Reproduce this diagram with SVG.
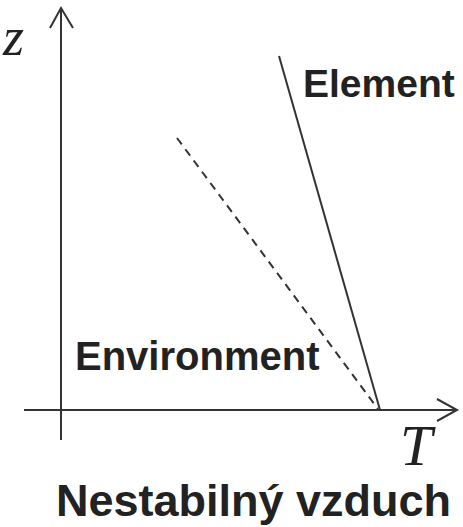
<svg xmlns="http://www.w3.org/2000/svg" width="463" height="527" viewBox="0 0 463 527">
<style>
.ax{stroke:#333;stroke-width:2;fill:none}
.ln{stroke:#333;stroke-width:2;fill:none}
.dash{stroke:#333;stroke-width:2;fill:none;stroke-dasharray:8 6}
.lbl{font-family:"Liberation Sans",Arial,sans-serif;font-weight:bold;fill:#222}
.var{font-family:"Liberation Serif","Times New Roman",serif;font-style:italic;fill:#222}
</style>
<rect width="463" height="527" fill="#fff"/>
<g id="axes">
<line class="ax" x1="61" y1="440" x2="61" y2="8"/>
<polyline class="ax" points="50,28 61,8 73,28"/>
<line class="ax" x1="24" y1="410" x2="457" y2="410"/>
<polyline class="ax" points="437,399 457,410 437,421"/>
<text class="var" x="3" y="55" font-size="54">z</text>
<text class="var" x="400" y="465" font-size="58">T</text>
</g>
<g id="connectors">
<line id="element-line" class="ln" x1="279" y1="56" x2="380" y2="410"/>
<line id="environment-line" class="dash" x1="177" y1="138" x2="378" y2="409"/>
</g>
<g id="element"><text class="lbl" x="303" y="97" font-size="39">Element</text></g>
<g id="environment"><text class="lbl" x="75" y="370" font-size="40">Environment</text></g>
<g id="title"><text class="lbl" x="56" y="516" font-size="45">Nestabilný vzduch</text></g>
</svg>
